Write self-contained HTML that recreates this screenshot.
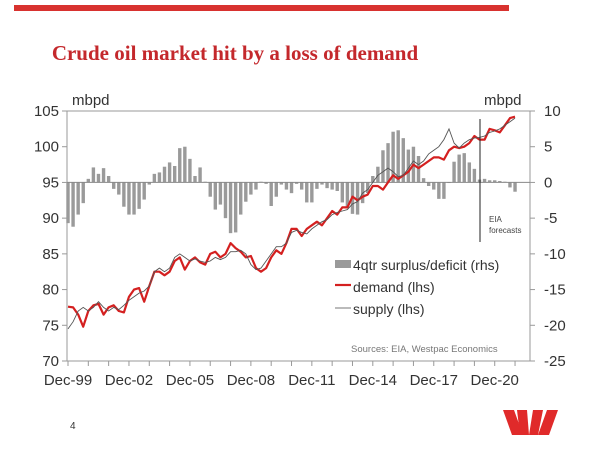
<!DOCTYPE html>
<html><head><meta charset="utf-8"><style>
html,body{margin:0;padding:0;background:#fff;width:600px;height:450px;overflow:hidden}
svg{display:block}
text{font-family:"Liberation Sans",sans-serif}
</style></head><body>
<svg id="chart" width="600" height="450" viewBox="0 0 600 450">
<rect x="14" y="5" width="495" height="6" fill="#d8322f"/>
<text x="235" y="60" text-anchor="middle" style="font-family:'Liberation Serif',serif;font-weight:bold;font-size:21px" fill="#c4282c">Crude oil market hit by a loss of demand</text>
<g id="plot"></g>
<text x="70" y="429" font-size="10" fill="#333">4</text>
<g fill="#e02a2a">
<polygon points="503,410 514,410 523,435 512,435"/>
<polygon points="517,410 527,410 529,435 520,435"/>
<polygon points="533,410 543,410 538,435 529,435"/>
<polygon points="547,410 558,410 549,435 538,435"/>
</g>
</svg>
<script>
const xTickLabels=["Dec-99","Dec-02","Dec-05","Dec-08","Dec-11","Dec-14","Dec-17","Dec-20"];
const leftTicks=[70,75,80,85,90,95,100,105];
const rightTicks=[-25,-20,-15,-10,-5,0,5,10];
const demand=[77.6,77.5,76.5,74.8,77,77.8,78,76.5,77.5,77.8,77,76.8,79,80,80.2,78.3,80.5,82.5,82.5,82,82.5,84,84.5,82.8,84,84.5,83.8,83.5,85,85.3,84.5,85,86.5,85.8,85.3,84.5,84.7,83,82.5,83,84.5,85.5,85,86.5,88.5,88.5,87.5,88.5,89,89.5,89,90,91,90.5,91.5,91.5,93,92.5,93,93.3,94.5,94.5,94,95,96,95.5,96,96.5,97.5,97,97.5,98,98.5,98.5,98.2,99.5,100,99.8,100,100.5,101.5,101,101,102.5,102.3,102,103,104,104.2];
const supply=[74.5,75.5,77,77.5,77,77.5,78.3,77.5,77,77.5,77.2,77.8,78.5,79,79.5,79.8,80.5,82.5,83,82.5,83,84.5,85,84.5,84,84.3,84,83.8,84,84.5,84.2,84.5,85.3,85.3,85.5,85,83.5,82.8,83,84,85,86,86,86.5,88,88.3,88,87.8,88.5,89,89.5,89.8,90.5,90.8,91,91.2,92,92.3,93.5,94,95,96,96.5,97,96.5,95.8,96,97,98,97.5,98,99,99.5,100,101,102.5,100.5,99.8,100.5,101,101.2,101.3,101.5,102,102.2,102.5,103,103.5,104];
const surplus=[-5.7,-6.2,-4.5,-2.9,0.5,2.1,1.2,2,0.9,-0.9,-1.7,-3.4,-4.5,-4.5,-3.7,-2.4,-0.3,1.2,1.4,2.2,2.8,2.3,4.8,5,3.3,0.9,2.1,0.1,-2,-3.8,-3.1,-5,-7.1,-7,-4.5,-2.7,-1.7,-1,0.1,-0.2,-3.3,-2,-0.3,-1,-1.5,-0.2,-1,-2.8,-2.8,-0.9,-0.3,-0.8,-1,-1.2,-2.8,-3.6,-4.4,-4.5,-2.9,-1.5,0.9,2.2,4.5,5.5,7.1,7.3,6.2,4.6,5,3.7,0.6,-0.5,-1,-2.3,-2.3,0,2.9,3.9,4.1,2.8,1.9,0.4,0.5,0.3,0.3,0.2,0.1,-0.7,-1.3];
const NS="http://www.w3.org/2000/svg";
const X0=68,QW=5.08,TOP=111,BOT=361,L=67,R=530;
function xq(i){return X0+i*QW;}
function yl(v){return TOP+(105-v)*(BOT-TOP)/35;}
function yr(v){return TOP+(10-v)*(BOT-TOP)/35;}
const g=document.getElementById('plot');
function mk(tag,attrs,parent){const e=document.createElementNS(NS,tag);for(const k in attrs)e.setAttribute(k,attrs[k]);(parent||g).appendChild(e);return e;}
let e;
e=mk('rect',{x:L,y:TOP,width:R-L,height:BOT-TOP,fill:'none',stroke:'#999','stroke-width':1});


leftTicks.forEach(v=>{const y=yl(v);
 mk('line',{x1:L-5,x2:L,y1:y,y2:y,stroke:'#999'});
 e=mk('text',{x:L-8,y:y+5,'text-anchor':'end','font-size':15,fill:'#333'});e.textContent=v;
 
 });
rightTicks.forEach(v=>{const y=yr(v);
 mk('line',{x1:R,x2:R+5,y1:y,y2:y,stroke:'#999'});
 e=mk('text',{x:R+14,y:y+5,'font-size':15,fill:'#333'});e.textContent=v;
 
 });
for(let yr2=0;yr2<=22;yr2++){const x=xq(yr2*4);if(x>R)break;mk('line',{x1:x,x2:x,y1:BOT,y2:BOT+5,stroke:'#999'});}
xTickLabels.forEach((t,k)=>{e=mk('text',{x:xq(k*12),y:385,'text-anchor':'middle','font-size':15,fill:'#333'});e.textContent=t;
 
 });
e=mk('text',{x:72,y:105,'font-size':15,fill:'#333'});e.textContent='mbpd';


e=mk('text',{x:484,y:105,'font-size':15,fill:'#333'});e.textContent='mbpd';


surplus.forEach((v,i)=>{const y0=yr(0),y1=yr(v);
 e=mk('rect',{x:xq(i)-1.7,y:Math.min(y0,y1),width:3.4,height:Math.max(0.6,Math.abs(y1-y0)),fill:'#9a9a9a'});
 
 });
mk('line',{x1:L,x2:R,y1:yr(0),y2:yr(0),stroke:'#888','stroke-width':1});
function path(arr,f){return arr.map((v,i)=>(i?'L':'M')+xq(i).toFixed(1)+','+f(v).toFixed(1)).join('');}
e=mk('path',{d:path(demand,yl),fill:'none',stroke:'#d42020','stroke-width':2.2,'stroke-linejoin':'round'});


e=mk('path',{d:path(supply,yl),fill:'none',stroke:'#555','stroke-width':0.9});


e=mk('line',{x1:480,x2:480,y1:119,y2:242,stroke:'#222','stroke-width':1});


e=mk('text',{x:489,y:222,'font-size':8,fill:'#444'});e.textContent='EIA';


e=mk('text',{x:489,y:233,'font-size':8,fill:'#444'});e.textContent='forecasts';


e=mk('rect',{x:335,y:260,width:16,height:8,fill:'#9a9a9a'});


e=mk('text',{x:353,y:270,'font-size':14,fill:'#333'});e.textContent='4qtr surplus/deficit (rhs)';


e=mk('line',{x1:335,x2:351,y1:285,y2:285,stroke:'#d42020','stroke-width':2.2});


e=mk('text',{x:353,y:292,'font-size':14,fill:'#333'});e.textContent='demand (lhs)';


e=mk('line',{x1:335,x2:351,y1:308,y2:308,stroke:'#777','stroke-width':1});


e=mk('text',{x:353,y:314,'font-size':14,fill:'#333'});e.textContent='supply (lhs)';


e=mk('text',{x:351,y:352,'font-size':9.5,fill:'#777'});e.textContent='Sources: EIA, Westpac Economics';


</script>
</body></html>
